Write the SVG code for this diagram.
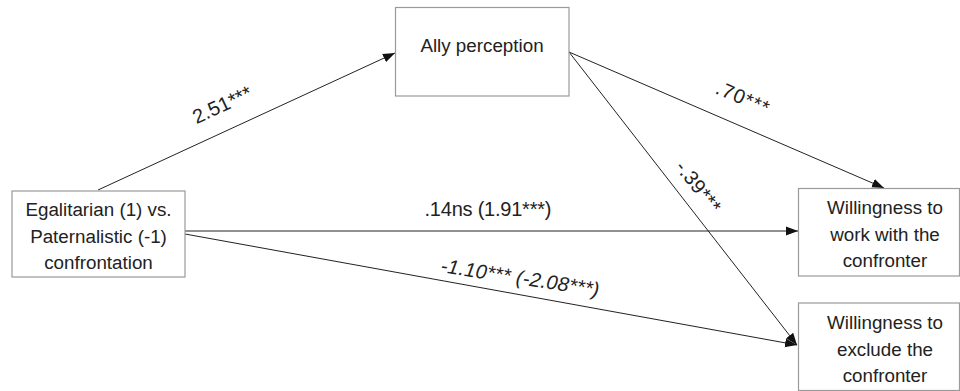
<svg xmlns="http://www.w3.org/2000/svg" width="960" height="391" viewBox="0 0 960 391">
<defs>
<marker id="ah" markerUnits="userSpaceOnUse" markerWidth="13" markerHeight="10" refX="12" refY="5" orient="auto">
<path d="M0,0.5 L12,5 L0,9.5 z" fill="#111"/>
</marker>
<style>
.box{fill:#fff;stroke:#9a9a9a;stroke-width:1.2}
.nt{font-family:"Liberation Sans",Arial,sans-serif;font-size:18.8px;fill:#222;text-anchor:middle}
.lb{font-family:"Liberation Sans",Arial,sans-serif;font-size:20px;fill:#222;text-anchor:middle}
.ln{stroke:#222;stroke-width:1;fill:none;marker-end:url(#ah)}
</style>
</defs>
<rect width="960" height="391" fill="#fff"/>
<g id="connectors">
<line class="ln" x1="98" y1="190" x2="395" y2="53"/>
<line class="ln" x1="569" y1="52" x2="884" y2="188"/>
<line class="ln" x1="569" y1="52" x2="797" y2="345"/>
<line class="ln" x1="185" y1="231" x2="798" y2="231"/>
<line class="ln" x1="185" y1="234" x2="797" y2="345"/>
<text class="lb" transform="translate(225,111) rotate(-24.8)" textLength="63" lengthAdjust="spacing">2.51***</text>
<text class="lb" transform="translate(740,104) rotate(23.4)" textLength="56" lengthAdjust="spacing">.70***</text>
<text class="lb" transform="translate(693,191) rotate(52)" textLength="60" lengthAdjust="spacing">-.39***</text>
<text class="lb" x="488" y="216" textLength="127" lengthAdjust="spacing">.14ns (1.91***)</text>
<text class="lb" style="text-anchor:start;font-style:italic" transform="translate(440,272) rotate(8.8)" textLength="160" lengthAdjust="spacing">-1.10*** (-2.08***)</text>
</g>
<g id="ally">
<rect class="box" x="395.5" y="7.5" width="173.5" height="88.5"/>
<text class="nt" x="482" y="52">Ally perception</text>
</g>
<g id="confrontation">
<rect class="box" x="12" y="191" width="173" height="86"/>
<text class="nt" x="98.5" y="216">Egalitarian (1) vs.</text>
<text class="nt" x="98.5" y="243">Paternalistic (-1)</text>
<text class="nt" x="98.5" y="269">confrontation</text>
</g>
<g id="work">
<rect class="box" x="798.5" y="188.5" width="161" height="87.5"/>
<text class="nt" x="885" y="214">Willingness to</text>
<text class="nt" x="885" y="241">work with the</text>
<text class="nt" x="885" y="267">confronter</text>
</g>
<g id="exclude">
<rect class="box" x="798.5" y="303" width="161" height="87.5"/>
<text class="nt" x="885" y="329">Willingness to</text>
<text class="nt" x="885" y="356">exclude the</text>
<text class="nt" x="885" y="382">confronter</text>
</g>
</svg>
